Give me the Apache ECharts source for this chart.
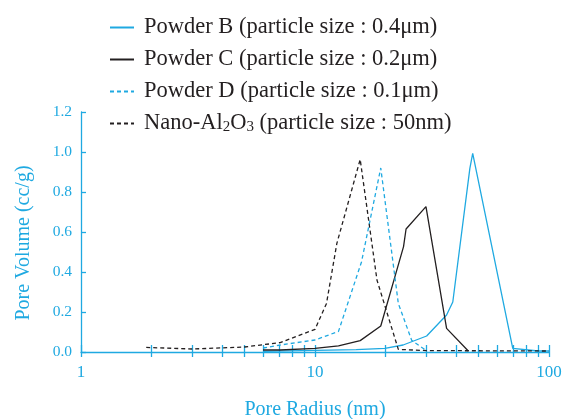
<!DOCTYPE html>
<html>
<head>
<meta charset="utf-8">
<style>
  html, body { margin: 0; padding: 0; background: #fff; }
  #chart { width: 562px; height: 419px; }
</style>
<script src="https://cdn.jsdelivr.net/npm/echarts@6/dist/echarts.min.js"></script>
</head>
<body>
<div id="chart"></div>
<script>
const seriesNames = [
  'Powder B (particle size : 0.4μm)',
  'Powder C (particle size : 0.2μm)',
  'Powder D (particle size : 0.1μm)',
  'Nano-Al2O3 (particle size : 50nm)'
]

// pore radius (nm) / pore volume (cc/g)
const bRadius = [6, 10, 15, 19.9, 23.8, 30, 36.5, 38.8, 45.9, 47.2, 70, 90, 100]
const bVolume = [0.003, 0.008, 0.012, 0.018, 0.035, 0.08, 0.185, 0.25, 0.918, 0.993, 0.018, 0.005, 0.005]

const cRadius = [6, 7.1, 10, 12.6, 15.6, 19.1, 23.9, 24.5, 29.8, 36.5, 45.2]
const cVolume = [0.01, 0.01, 0.018, 0.031, 0.057, 0.13, 0.527, 0.615, 0.727, 0.118, 0.005]

const dRadius = [6, 7.1, 10, 12.6, 15.8, 19.1, 22.7, 25.9, 30]
const dVolume = [0.02, 0.035, 0.06, 0.103, 0.45, 0.92, 0.243, 0.058, 0.006]

const nRadius = [1.9, 3, 5, 7.1, 10, 11.2, 12.4, 15.6, 18.4, 22.7, 30, 100]
const nVolume = [0.023, 0.015, 0.025, 0.047, 0.113, 0.243, 0.543, 0.963, 0.36, 0.013, 0.007, 0.005]

const xTicks = [1, 2, 3, 4, 5, 6, 7, 8, 9, 10, 20, 30, 40, 50, 60, 70, 80, 90, 100]
const xLabels = [1, 10, 100]

const cyan = '#1fa9e1'
const dark = '#231f20'
const serif = '"Liberation Serif", "Times New Roman", serif'

const pairs = (xs, ys) => xs.map((x, i) => [x, ys[i]])

const chart = echarts.init(document.getElementById('chart'))

const lineSeries = (name, xs, ys, color, dashed) => ({
  name,
  type: 'line',
  xAxisIndex: 0,
  data: pairs(xs, ys),
  symbol: 'none',
  animation: false,
  lineStyle: {
    color,
    width: 1.3,
    type: dashed ? [4, 3] : 'solid'
  },
  itemStyle: { color }
})

chart.setOption({
  animation: false,
  grid: {
    left: 81,
    right: 13,
    top: 112,
    bottom: 67,
    containLabel: false,
    outerBoundsMode: 'none'
  },
  legend: {
    orient: 'vertical',
    left: 104,
    top: 11,
    itemWidth: 24,
    itemHeight: 12,
    itemGap: 9,
    data: seriesNames,
    itemStyle: { opacity: 0 },
    formatter: (name) => name.replace('Al2O3', 'Al{s|2}O{s|3}'),
    textStyle: {
      fontFamily: serif,
      fontSize: 22.5,
      color: dark,
      padding: [0, 0, 0, 5],
      rich: {
        s: {
          fontFamily: serif,
          fontSize: 15,
          color: dark,
          verticalAlign: 'bottom'
        }
      }
    }
  },
  xAxis: [{
    type: 'log',
    logBase: 10,
    min: 1,
    max: 100,
    name: 'Pore Radius (nm)',
    nameLocation: 'middle',
    nameGap: 48,
    nameTextStyle: { fontFamily: serif, fontSize: 20, color: cyan },
    axisLine: { show: true, lineStyle: { color: cyan, width: 1.3 } },
    axisTick: {
      show: true,
      inside: true,
      length: 7,
      customValues: xTicks,
      lineStyle: { color: cyan, width: 1.3 }
    },
    axisLabel: {
      customValues: xLabels,
      margin: 12,
      fontFamily: serif,
      fontSize: 17,
      color: cyan
    },
    splitLine: { show: false },
    minorTick: { show: false }
  }, {
    type: 'log',
    logBase: 10,
    min: 1,
    max: 100,
    position: 'bottom',
    axisLine: { show: false },
    axisTick: {
      show: true,
      inside: false,
      length: 5,
      customValues: xTicks,
      lineStyle: { color: cyan, width: 1.3 }
    },
    axisLabel: { show: false },
    splitLine: { show: false }
  }],
  yAxis: {
    type: 'value',
    min: 0,
    max: 1.2,
    interval: 0.2,
    name: 'Pore Volume (cc/g)',
    nameLocation: 'middle',
    nameGap: 47,
    nameTextStyle: {
      fontFamily: serif,
      fontSize: 20,
      color: cyan,
      padding: [0, 22, 0, 0]
    },
    axisLine: { show: true, lineStyle: { color: cyan, width: 1.3 } },
    axisTick: {
      show: true,
      inside: true,
      length: 5,
      lineStyle: { color: cyan, width: 1.3 }
    },
    axisLabel: {
      formatter: (v) => v.toFixed(1),
      margin: 9,
      fontFamily: serif,
      fontSize: 15.5,
      color: cyan
    },
    splitLine: { show: false }
  },
  series: [
    lineSeries(seriesNames[0], bRadius, bVolume, cyan, false),
    lineSeries(seriesNames[1], cRadius, cVolume, dark, false),
    lineSeries(seriesNames[2], dRadius, dVolume, cyan, true),
    lineSeries(seriesNames[3], nRadius, nVolume, dark, true)
  ]
})

window.addEventListener('resize', () => {
  chart.resize()
})
</script>
</body>
</html>
